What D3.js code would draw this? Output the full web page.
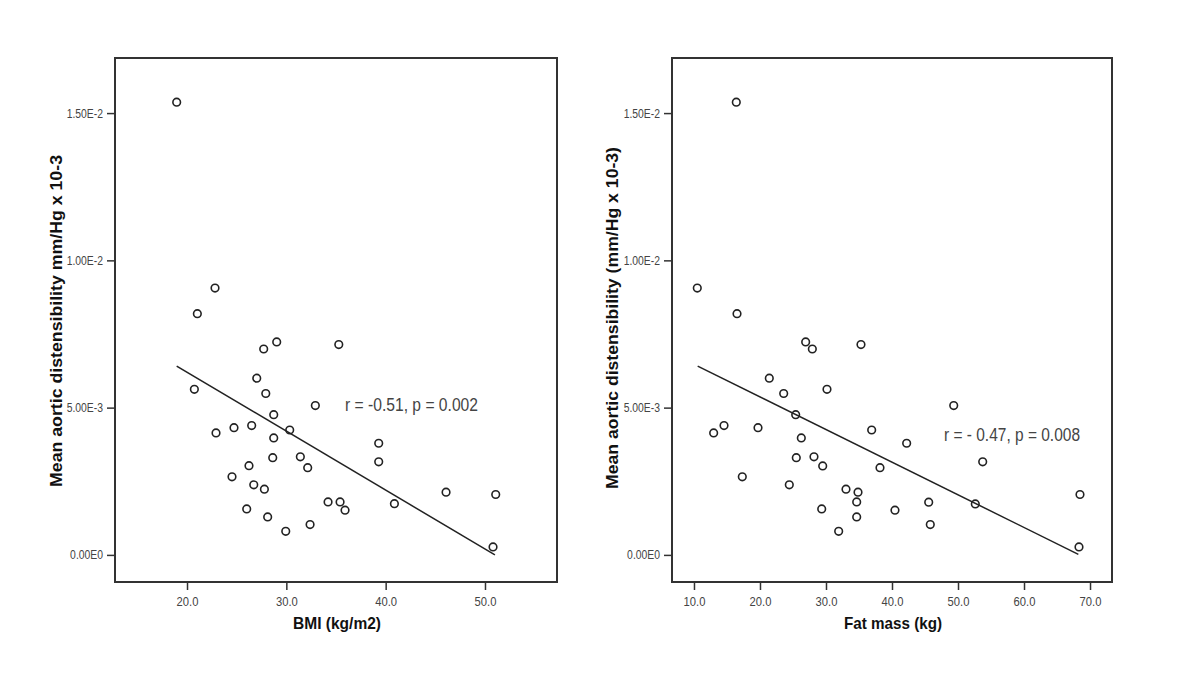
<!DOCTYPE html>
<html><head><meta charset="utf-8">
<script src="https://cdn.jsdelivr.net/npm/d3@7"></script>
<style>body{margin:0;background:#fff;} svg{display:block;font-family:"Liberation Sans",Arial,sans-serif;}</style>
</head><body>
<svg id="c" width="1200" height="693"></svg>
<script>
// ---- data ----
const bmi = [18.96, 22.82, 21.04, 27.72, 29.03, 35.28, 27.02, 20.74, 27.93, 32.92, 28.73, 22.92, 24.73, 26.51, 30.34, 28.73, 39.30, 28.63, 31.41, 32.15, 39.30, 26.24, 24.53, 26.72, 27.79, 46.08, 51.08, 34.20, 35.41, 35.91, 40.88, 26.01, 28.12, 29.94, 32.39, 50.81];
const distBmi = [15.37e-3, 9.06e-3, 8.19e-3, 6.99e-3, 7.23e-3, 7.14e-3, 6.00e-3, 5.62e-3, 5.48e-3, 5.07e-3, 4.76e-3, 4.14e-3, 4.32e-3, 4.39e-3, 4.24e-3, 3.97e-3, 3.79e-3, 3.30e-3, 3.33e-3, 2.96e-3, 3.16e-3, 3.03e-3, 2.65e-3, 2.38e-3, 2.23e-3, 2.13e-3, 2.05e-3, 1.80e-3, 1.80e-3, 1.52e-3, 1.74e-3, 1.56e-3, 1.29e-3, 0.80e-3, 1.03e-3, 0.27e-3];
const fatMass = [16.41, 10.5, 16.52, 26.92, 27.93, 35.30, 21.41, 23.59, 30.15, 49.35, 25.41, 12.98, 14.55, 19.70, 36.92, 26.26, 42.22, 25.5, 28.18, 29.5, 38.18, 53.74, 17.32, 24.44, 33.03, 34.85, 68.48, 34.65, 45.56, 52.62, 29.35, 40.45, 34.65, 31.92, 45.8, 68.33];
const distFat = [15.37e-3, 9.06e-3, 8.19e-3, 7.23e-3, 6.99e-3, 7.14e-3, 6.00e-3, 5.48e-3, 5.62e-3, 5.07e-3, 4.76e-3, 4.14e-3, 4.39e-3, 4.32e-3, 4.24e-3, 3.97e-3, 3.79e-3, 3.30e-3, 3.33e-3, 3.02e-3, 2.96e-3, 3.16e-3, 2.65e-3, 2.38e-3, 2.23e-3, 2.13e-3, 2.05e-3, 1.80e-3, 1.79e-3, 1.73e-3, 1.56e-3, 1.52e-3, 1.29e-3, 0.80e-3, 1.03e-3, 0.27e-3];
const fitBmiX = [18.96, 51.0];
const fitBmiY = [6.41e-3, 0.0];
const fitFatX = [10.56, 68.23];
const fitFatY = [6.41e-3, 0.02e-3];
const yTickValues = [0, 0.005, 0.01, 0.015];
const yTickLabels = ["0.00E0", "5.00E-3", "1.00E-2", "1.50E-2"];
const bmiTicks = [20, 30, 40, 50];
const fatTicks = [10, 20, 30, 40, 50, 60, 70];

const svg = d3.select("#c");
const SQ = 0.83; // horizontal condensation of the reference lettering

function condense(sel, f) {
  sel.each(function () {
    const w = this.getComputedTextLength();
    d3.select(this).attr("textLength", w * f).attr("lengthAdjust", "spacingAndGlyphs");
  });
}

function panel(o) {
  const x = d3.scaleLinear().domain(o.xDomain).range([o.left, o.right]);
  const y = d3.scaleLinear().domain([-0.92e-3, 16.87e-3]).range([582, 58]);
  const g = svg.append("g");
  g.append("rect").attr("x", o.left).attr("y", 58).attr("width", o.right - o.left).attr("height", 524)
    .attr("fill", "#fff").attr("stroke", "#333").attr("stroke-width", 2);
  const ya = g.append("g").attr("transform", `translate(${o.left},0)`)
    .call(d3.axisLeft(y).tickValues(yTickValues).tickSize(8).tickPadding(4)
      .tickFormat((d, i) => yTickLabels[i]));
  ya.select(".domain").remove();
  ya.selectAll("line").attr("stroke", "#333").attr("stroke-width", 1.5);
  ya.selectAll("text").attr("fill", "#444").style("font-size", "12.5px").attr("font-family", "Liberation Sans, Arial");
  condense(ya.selectAll("text"), SQ);
  const xa = g.append("g").attr("transform", "translate(0,582)")
    .call(d3.axisBottom(x).tickValues(o.xTicks).tickSize(8).tickPadding(6).tickFormat(d3.format(".1f")));
  xa.select(".domain").remove();
  xa.selectAll("line").attr("stroke", "#333").attr("stroke-width", 1.5);
  xa.selectAll("text").attr("fill", "#444").style("font-size", "13.5px").attr("font-family", "Liberation Sans, Arial");
  condense(xa.selectAll("text"), SQ);
  // fit line
  g.append("line").attr("x1", x(o.fitX[0])).attr("y1", y(o.fitY[0]))
    .attr("x2", x(o.fitX[1])).attr("y2", y(o.fitY[1]))
    .attr("stroke", "#222").attr("stroke-width", 1.5);
  // points
  g.selectAll("circle.p").data(o.xs).join("circle").attr("class", "p")
    .attr("cx", d => x(d)).attr("cy", (d, i) => y(o.ys[i])).attr("r", 3.8)
    .attr("fill", "none").attr("stroke", "#222").attr("stroke-width", 1.6);
  // annotation
  g.append("text").attr("x", o.annX).attr("y", o.annY).text(o.ann)
    .attr("fill", "#444").style("font-size", "18px")
    .attr("textLength", o.annW).attr("lengthAdjust", "spacingAndGlyphs");
  // x title
  g.append("text").attr("x", o.xtX).attr("y", 629).attr("text-anchor", "middle").text(o.xTitle)
    .style("font-weight", "bold").style("font-size", "17px").attr("fill", "#111")
    .attr("textLength", o.xtW).attr("lengthAdjust", "spacingAndGlyphs");
  // y title
  g.append("text").attr("transform", `translate(${o.ytX},${o.ytY}) rotate(-90)`)
    .attr("text-anchor", "middle").attr("dy", "0.35em").text(o.yTitle)
    .style("font-weight", "bold").style("font-size", "17px").attr("fill", "#111")
    .attr("textLength", o.ytW).attr("lengthAdjust", "spacingAndGlyphs");
}

panel({left: 115, right: 557, xDomain: [12.75, 57.25], xTicks: bmiTicks, xs: bmi, ys: distBmi,
  fitX: fitBmiX, fitY: fitBmiY, ann: "r = -0.51, p = 0.002", annX: 345, annY: 411, annW: 133,
  xTitle: "BMI (kg/m2)", xtX: 337, xtW: 88,
  yTitle: "Mean aortic distensibility mm/Hg x 10-3", ytX: 56, ytY: 321, ytW: 332});
panel({left: 672, right: 1112, xDomain: [6.67, 73.33], xTicks: fatTicks, xs: fatMass, ys: distFat,
  fitX: fitFatX, fitY: fitFatY, ann: "r = - 0.47, p = 0.008", annX: 944, annY: 441, annW: 136,
  xTitle: "Fat mass (kg)", xtX: 893, xtW: 98,
  yTitle: "Mean aortic distensibility (mm/Hg x 10-3)", ytX: 612, ytY: 318, ytW: 342});
</script>
</body></html>
